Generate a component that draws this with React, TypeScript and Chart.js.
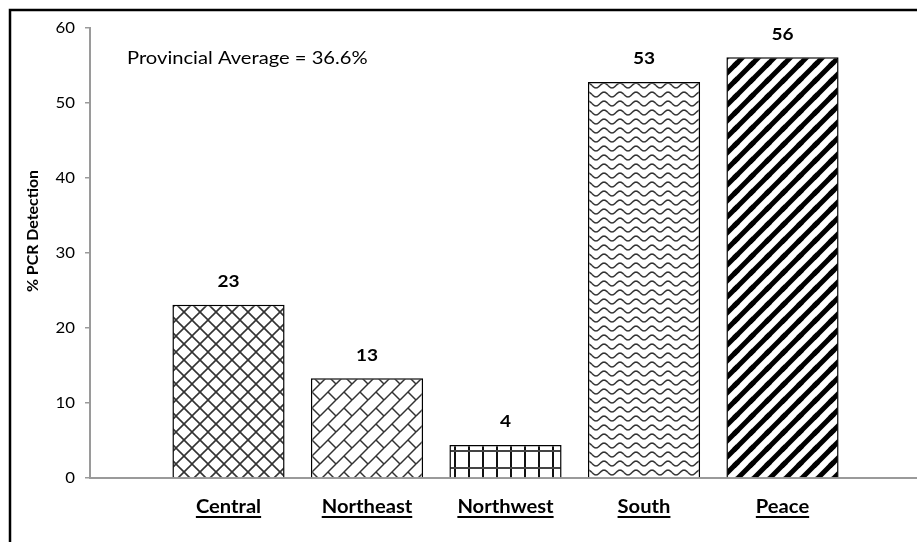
import React, { useEffect, useRef } from 'react';
import { Chart, registerables } from 'chart.js';

Chart.register(...registerables);

const categories = ['Central', 'Northeast', 'Northwest', 'South', 'Peace'];
const detection = [23.1, 13.3, 4.4, 52.8, 56.1];
const yTicks = [0, 10, 20, 30, 40, 50, 60];
const noteText = 'Provincial Average = 36.6%';
const yTitle = '% PCR Detection';

const FONT = 'Lato, "Open Sans", sans-serif';
const AXIS_GRAY = '#9a9a9a';
const STRETCH = 1.12;
const VIEW_W = 917;
const VIEW_H = 542;
const CANVAS_W = 921;

type DrawFn = (g: CanvasRenderingContext2D) => void;

function makeTile(ctx: CanvasRenderingContext2D, w: number, h: number, draw: DrawFn): CanvasPattern | string {
  const c = document.createElement('canvas');
  c.width = w;
  c.height = h;
  const g = c.getContext('2d');
  if (!g) return '#ffffff';
  g.fillStyle = '#ffffff';
  g.fillRect(0, 0, w, h);
  for (const dx of [-w, 0, w]) {
    for (const dy of [-h, 0, h]) {
      g.save();
      g.translate(dx, dy);
      draw(g);
      g.restore();
    }
  }
  return ctx.createPattern(c, 'repeat') || '#ffffff';
}

function seg(g: CanvasRenderingContext2D, x1: number, y1: number, x2: number, y2: number) {
  g.beginPath();
  g.moveTo(x1, y1);
  g.lineTo(x2, y2);
  g.stroke();
}

function buildPatterns(ctx: CanvasRenderingContext2D) {
  const crossHatch = makeTile(ctx, 16, 16, (g) => {
    g.strokeStyle = '#333333';
    g.lineWidth = 1.6;
    seg(g, 0, 0, 16, 16);
    seg(g, 16, 0, 0, 16);
  });
  const brick = makeTile(ctx, 16, 16, (g) => {
    g.strokeStyle = '#333333';
    g.lineWidth = 1.5;
    seg(g, 0, 16, 16, 0);
    seg(g, 8, 8, 16, 16);
  });
  const grid = makeTile(ctx, 14, 17, (g) => {
    g.fillStyle = '#111111';
    g.fillRect(6, 0, 2, 17);
    g.fillStyle = '#444444';
    g.fillRect(0, 8, 14, 2);
  });
  const wave = makeTile(ctx, 16, 9, (g) => {
    g.strokeStyle = '#333333';
    g.lineWidth = 1.5;
    g.beginPath();
    for (let x = 0; x <= 16; x += 0.5) {
      const y = 4.5 + 2.4 * Math.sin((2 * Math.PI * x) / 16);
      if (x === 0) g.moveTo(x, y);
      else g.lineTo(x, y);
    }
    g.stroke();
  });
  const stripes = makeTile(ctx, 16, 16, (g) => {
    g.strokeStyle = '#000000';
    g.lineWidth = 5;
    seg(g, -2, 18, 18, -2);
  });
  return [crossHatch, brick, grid, wave, stripes];
}

function wideText(
  ctx: CanvasRenderingContext2D,
  text: string,
  x: number,
  y: number,
  align: CanvasTextAlign,
  sx: number
) {
  ctx.save();
  ctx.translate(x, y);
  ctx.scale(sx, 1);
  ctx.textAlign = align;
  ctx.fillText(text, 0, 0);
  ctx.restore();
}

const decorPlugin = {
  id: 'decor',
  beforeDraw(chart: any) {
    const { ctx, width, height } = chart;
    ctx.save();
    ctx.fillStyle = '#ffffff';
    ctx.fillRect(0, 0, width, height);
    ctx.strokeStyle = '#000000';
    ctx.lineWidth = 2.5;
    ctx.beginPath();
    ctx.moveTo(10, height + 5);
    ctx.lineTo(10, 10);
    ctx.lineTo(width + 5, 10);
    ctx.stroke();
    ctx.restore();
  },
  afterDatasetsDraw(chart: any) {
    const { ctx, chartArea } = chart;
    const xScale = chart.scales.x;
    const yScale = chart.scales.y;
    const meta = chart.getDatasetMeta(0);
    ctx.save();
    ctx.fillStyle = '#000000';

    // y tick labels
    ctx.font = `15px ${FONT}`;
    ctx.textBaseline = 'middle';
    yTicks.forEach((v) => {
      wideText(ctx, String(v), chartArea.left - 15, yScale.getPixelForValue(v), 'right', STRETCH);
    });

    // value labels above bars
    ctx.font = `bold 17px ${FONT}`;
    ctx.textBaseline = 'middle';
    meta.data.forEach((bar: any, i: number) => {
      const v = chart.data.datasets[0].data[i];
      if (v === null || v === undefined) return;
      wideText(ctx, String(Math.round(v)), bar.x, bar.y - 23, 'center', STRETCH);
    });

    // underlined category labels
    ctx.font = `bold 18px ${FONT}`;
    ctx.textBaseline = 'alphabetic';
    categories.forEach((name, i) => {
      const x = xScale.getPixelForValue(i + 1);
      const baseY = chartArea.bottom + 35;
      wideText(ctx, name, x, baseY, 'center', STRETCH);
      const w = ctx.measureText(name).width * STRETCH;
      ctx.fillRect(x - w / 2, baseY + 3, w, 2);
    });

    // note text
    ctx.font = `18px ${FONT}`;
    wideText(ctx, noteText, 127, 64, 'left', STRETCH);

    // y axis title
    ctx.translate(33, 231);
    ctx.rotate(-Math.PI / 2);
    ctx.font = `bold 15px ${FONT}`;
    ctx.textBaseline = 'middle';
    wideText(ctx, yTitle, 0, 0, 'center', 1.06);
    ctx.restore();
  },
};

export default function App() {
  const canvasRef = useRef<HTMLCanvasElement | null>(null);

  useEffect(() => {
    const canvas = canvasRef.current;
    if (!canvas) return;
    const ctx = canvas.getContext('2d');
    if (!ctx) return;
    const patterns = buildPatterns(ctx);

    const chart = new Chart(ctx, {
      type: 'bar',
      data: {
        labels: ['', ...categories, ''],
        datasets: [
          {
            data: [null, ...detection, null],
            backgroundColor: ['#fff', ...patterns, '#fff'],
            borderColor: '#000000',
            borderWidth: 1.5,
            categoryPercentage: 1,
            barPercentage: 0.81,
          },
        ],
      },
      options: {
        responsive: false,
        animation: false,
        devicePixelRatio: 1,
        layout: { padding: { top: 28, left: 0, right: 0, bottom: 0 } },
        plugins: {
          legend: { display: false },
          tooltip: { enabled: false },
          title: { display: false },
        },
        scales: {
          x: {
            type: 'category',
            offset: false,
            grid: { display: false },
            ticks: { display: false },
            border: { display: true, color: AXIS_GRAY, width: 2 },
            afterFit: (s: any) => {
              s.height = 64;
            },
          },
          y: {
            min: 0,
            max: 60,
            afterBuildTicks: (s: any) => {
              s.ticks = yTicks.map((v) => ({ value: v }));
            },
            ticks: { display: false },
            grid: {
              drawOnChartArea: false,
              drawTicks: true,
              tickLength: 5,
              color: AXIS_GRAY,
              lineWidth: 1.5,
            },
            border: { display: true, color: AXIS_GRAY, width: 2 },
            afterFit: (s: any) => {
              s.width = 90;
            },
          },
        },
      } as any,
      plugins: [decorPlugin],
    });

    return () => chart.destroy();
  }, []);

  return (
    <div
      style={{
        position: 'absolute',
        left: 0,
        top: 0,
        width: VIEW_W,
        height: VIEW_H,
        overflow: 'hidden',
        background: '#fff',
      }}
    >
      <canvas
        ref={canvasRef}
        width={CANVAS_W}
        height={VIEW_H}
        style={{ width: CANVAS_W, height: VIEW_H, display: 'block' }}
      />
    </div>
  );
}
